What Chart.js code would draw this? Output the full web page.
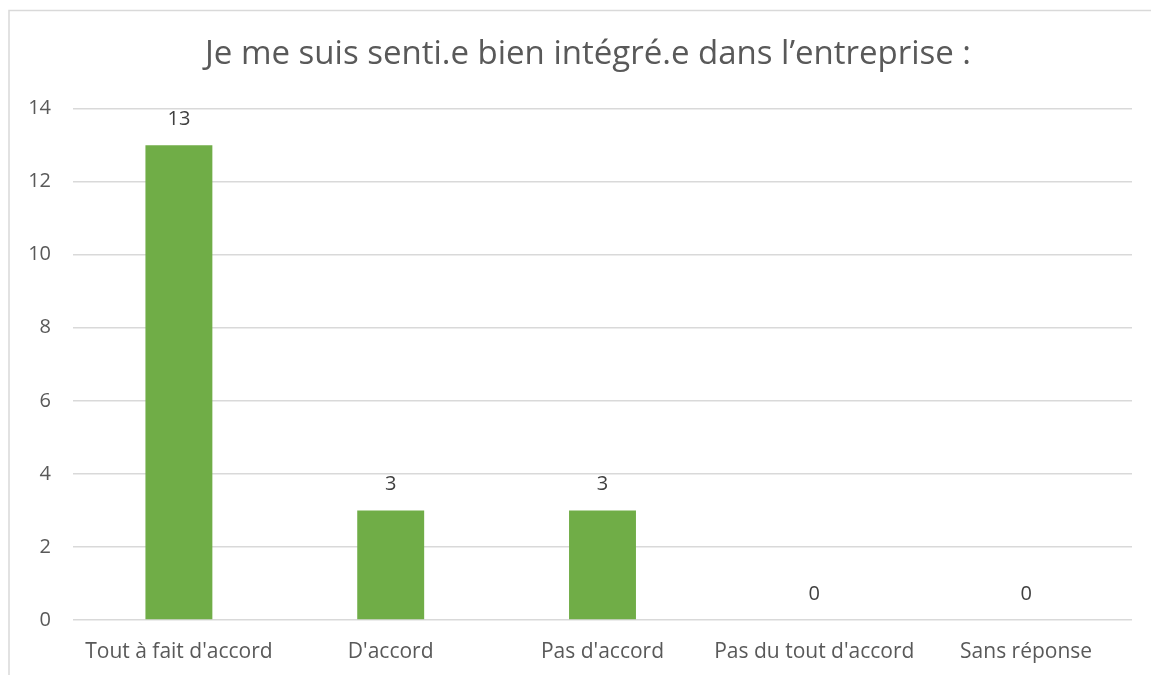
<!DOCTYPE html>
<html>
<head>
<meta charset="utf-8">
<script src="https://cdn.jsdelivr.net/npm/chart.js@4/dist/chart.umd.min.js"></script>
<style>
  html, body { margin: 0; padding: 0; background: #fff; }
  #wrap { position: relative; width: 1151px; height: 675px; }
</style>
</head>
<body>
<div id="wrap"><canvas id="c" width="1151" height="675"></canvas></div>
<script>
const titleText = "Je me suis senti.e bien intégré.e dans l’entreprise :";
const categories = ["Tout à fait d'accord", "D'accord", "Pas d'accord", "Pas du tout d'accord", "Sans réponse"];
const values = [13, 3, 3, 0, 0];
const yTicks = [0, 2, 4, 6, 8, 10, 12, 14];

const FONT = "'Open Sans', 'Liberation Sans', sans-serif";

const frame = {
  id: 'frame',
  beforeDraw(chart) {
    const ctx = chart.ctx;
    ctx.save();
    ctx.fillStyle = '#fff';
    ctx.fillRect(0, 0, chart.width, chart.height);
    ctx.strokeStyle = '#d9d9d9';
    ctx.lineWidth = 1.5;
    ctx.beginPath();
    ctx.moveTo(9, chart.height);
    ctx.lineTo(9, 10.5);
    ctx.lineTo(chart.width, 10.5);
    ctx.stroke();
    ctx.restore();
  }
};

const dataLabels = {
  id: 'dataLabels',
  afterDatasetsDraw(chart) {
    const ctx = chart.ctx;
    const meta = chart.getDatasetMeta(0);
    ctx.save();
    ctx.font = "20px " + FONT;
    ctx.fillStyle = '#404040';
    ctx.textAlign = 'center';
    ctx.textBaseline = 'middle';
    meta.data.forEach((bar, i) => {
      ctx.fillText(String(values[i]), bar.x, bar.y - 26);
    });
    ctx.restore();
  }
};

new Chart(document.getElementById('c'), {
  type: 'bar',
  data: {
    labels: categories,
    datasets: [{
      data: values,
      backgroundColor: '#70AD47',
      borderWidth: 0,
      categoryPercentage: 1,
      barPercentage: 0.316
    }]
  },
  options: {
    responsive: false,
    animation: false,
    devicePixelRatio: 1,
    layout: { padding: { left: 25, right: 0, top: 0, bottom: 0 } },
    plugins: {
      legend: { display: false },
      tooltip: { enabled: false },
      title: {
        display: true,
        text: titleText,
        color: '#595959',
        font: { family: FONT, size: 33, weight: 'normal', lineHeight: 1.2 },
        padding: { top: 35, bottom: 34 }
      }
    },
    scales: {
      x: {
        grid: { display: false, drawTicks: false },
        border: { display: false },
        ticks: {
          color: '#595959',
          font: { family: FONT, size: 21, lineHeight: 1.2 },
          padding: 19,
          maxRotation: 0,
          autoSkip: false
        },
        afterFit(scale) { scale.height = 55; }
      },
      y: {
        min: 0,
        max: 14,
        afterBuildTicks(scale) { scale.ticks = yTicks.map(v => ({ value: v })); },
        grid: { color: '#d9d9d9', lineWidth: 1.5, drawTicks: false },
        border: { display: false },
        ticks: {
          color: '#595959',
          font: { family: FONT, size: 20 },
          padding: 22
        },
        afterFit(scale) { scale.width = 48; }
      },
      yR: {
        position: 'right',
        display: true,
        min: 0,
        max: 14,
        grid: { display: false, drawTicks: false },
        border: { display: false },
        ticks: { display: false },
        afterFit(scale) { scale.width = 19; }
      }
    }
  },
  plugins: [frame, dataLabels]
});
</script>
</body>
</html>
